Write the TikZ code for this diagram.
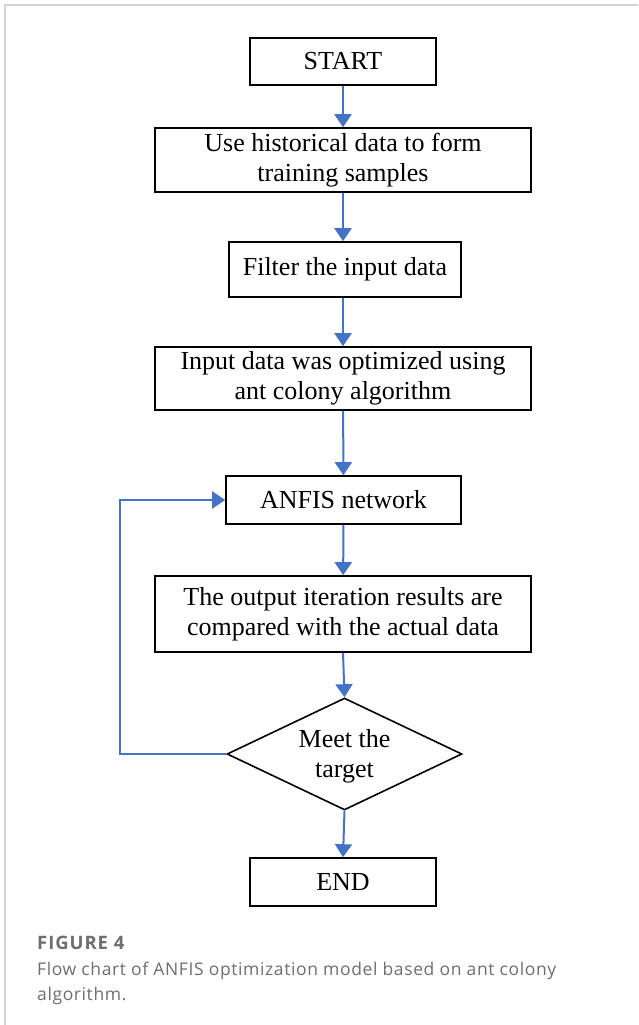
\documentclass[tikz,border=0pt]{standalone}
\usepackage{fontspec}
\setmainfont{Liberation Serif}
\newfontfamily\capfont[LetterSpace=3.5]{Open Sans}
\newfontfamily\figfont[LetterSpace=5]{Open Sans}
\usetikzlibrary{shapes.geometric,arrows.meta}
\definecolor{flowblue}{HTML}{4472C4}
\definecolor{capgrey}{HTML}{6E6E6E}
\definecolor{framegrey}{HTML}{D3D3D3}
\begin{document}
\begin{tikzpicture}[x=1pt,y=-1pt,
  box/.style={draw=black,line width=1.6pt,rectangle,inner sep=0pt,align=center,
    font=\fontsize{26}{30}\selectfont},
  flow/.style={draw=flowblue,line width=2pt,-{Triangle[width=17pt,length=13pt]}},
  captxt/.style={anchor=base west,inner sep=0pt,text=capgrey,font=\capfont\fontsize{17.5}{20}\selectfont}]
\useasboundingbox (0,0) rectangle (638,1025);
\fill[white] (0,0) rectangle (638,1025);
\draw[framegrey,line width=1.2pt] (5,1025) -- (5,5) -- (638,5);

\node[box,minimum width=186pt,minimum height=47pt] (start) at (343,61.5) {START};
\node[box,minimum width=376pt,minimum height=64pt] (hist) at (343,160) {Use historical data to form\\training samples};
\node[box,minimum width=232pt,minimum height=55pt] (filter) at (345,269.5) {Filter the input data};
\node[box,minimum width=376pt,minimum height=63pt] (opt) at (343,378.5) {Input data was optimized using\\ant colony algorithm};
\node[box,minimum width=235pt,minimum height=48pt] (anfis) at (343.5,500) {ANFIS network};
\node[box,minimum width=376pt,minimum height=76pt] (cmp) at (343,614) {The output iteration results are\\compared with the actual data};
\node[draw=black,line width=1.6pt,diamond,aspect=2.1,minimum width=235pt,minimum height=112pt,inner sep=0pt] (meet) at (344.5,754) {};
\node[align=center,font=\fontsize{26}{30}\selectfont] (meettxt) at (344.5,756) {Meet the\\target};
\node[box,minimum width=186pt,minimum height=48pt] (end) at (343,882) {END};

\draw[flow] (start) -- (hist);
\draw[flow] (hist) -- (filter.north -| hist.south);
\draw[flow] (filter.south -| hist.south) -- (opt);
\draw[flow] (opt) -- (anfis);
\draw[flow] (anfis) -- (cmp);
\draw[flow] (cmp.south) -- (meet.north);
\draw[flow] (meet.south) -- (end.north);
\coordinate (loopx) at (120,754);
\draw[flow] (meet.west) -- (loopx) |- (anfis.west);

\node[captxt,font=\figfont\bfseries\fontsize{18.5}{20}\selectfont] (fig) at (37,949) {FIGURE 4};
\node[captxt] (cap1) at (37,975) {Flow chart of ANFIS optimization model based on ant colony};
\node[captxt] (cap2) at (37,1000) {algorithm.};
\end{tikzpicture}
\end{document}
